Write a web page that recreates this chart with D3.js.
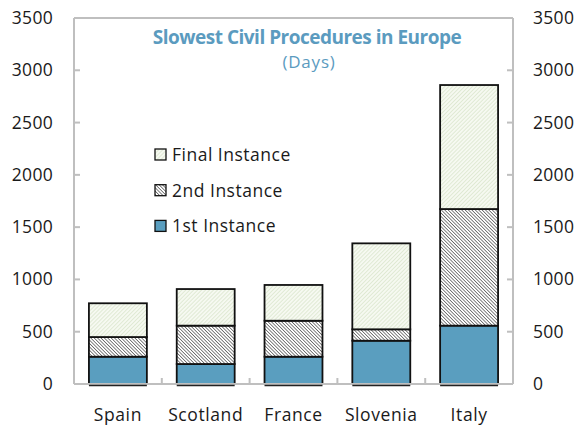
<!DOCTYPE html>
<html>
<head>
<meta charset="utf-8">
<script src="https://cdn.jsdelivr.net/npm/d3@7"></script>
<style>
  body { margin: 0; background: #fff; }
  svg text { font-family: "Open Sans", "DejaVu Sans", sans-serif; }
</style>
</head>
<body>
<svg id="chart" width="578" height="427"></svg>
<script>
// data (days)
var countries = ["Spain", "Scotland", "France", "Slovenia", "Italy"];
var firstInstance = [261, 191, 261, 414, 558];
var secondInstance = [188, 367, 344, 109, 1115];
var finalInstance = [323, 350, 342, 822, 1186];
var yTicks = [0, 500, 1000, 1500, 2000, 2500, 3000, 3500];
var seriesNames = ["1st Instance", "2nd Instance", "Final Instance"];

var svg = d3.select("#chart");
var margin = {left: 74, right: 65, top: 18, bottom: 43};
var W = 578, H = 427;

var x = d3.scaleBand().domain(countries)
    .range([margin.left, W - margin.right]).paddingInner(0.34).paddingOuter(0.17);
var y = d3.scaleLinear().domain([0, 3500]).range([H - margin.bottom, margin.top]);

// hatch patterns
var defs = svg.append("defs");
function hatch(id, bg, stroke, sw, gap, angle){
  var p = defs.append("pattern").attr("id", id)
      .attr("patternUnits", "userSpaceOnUse")
      .attr("width", gap).attr("height", gap)
      .attr("patternTransform", "rotate(" + angle + ")");
  p.append("rect").attr("width", gap).attr("height", gap).attr("fill", bg);
  p.append("line").attr("x1", 0).attr("y1", 0).attr("x2", 0).attr("y2", gap)
      .attr("stroke", stroke).attr("stroke-width", sw);
}
hatch("darkHatch", "#ffffff", "#333", 1.2, 2.4, -45);
hatch("greenHatch", "#f6f9f1", "#cfdfbf", 1.1, 2.8, 45);

var fills = ["#5a9ebf", "url(#darkHatch)", "url(#greenHatch)"];

var stackData = countries.map(function(c, i){
  return {country: c, s0: firstInstance[i], s1: secondInstance[i], s2: finalInstance[i]};
});
var stacked = d3.stack().keys(["s0", "s1", "s2"])(stackData);

// frame lines and ticks
var axisColor = "#bfbfbf";
var x0 = margin.left, x1 = W - margin.right;
svg.append("line").attr("x1", x0).attr("x2", x0).attr("y1", y(3500)).attr("y2", y(0))
   .attr("stroke", axisColor).attr("stroke-width", 2);
svg.append("line").attr("x1", x1).attr("x2", x1).attr("y1", y(3500)).attr("y2", y(0))
   .attr("stroke", axisColor).attr("stroke-width", 2);
svg.append("line").attr("x1", x0).attr("x2", x1).attr("y1", y(3500)).attr("y2", y(3500))
   .attr("stroke", axisColor).attr("stroke-width", 2);

yTicks.forEach(function(t){
  svg.append("line").attr("x1", x0).attr("x2", x0 + 6).attr("y1", y(t)).attr("y2", y(t))
     .attr("stroke", axisColor).attr("stroke-width", 2);
  svg.append("line").attr("x1", x1 - 6).attr("x2", x1).attr("y1", y(t)).attr("y2", y(t))
     .attr("stroke", axisColor).attr("stroke-width", 2);
});

// bars
svg.append("g").selectAll("g").data(stacked).enter().append("g")
  .attr("fill", function(d, i){ return fills[i]; })
  .selectAll("rect").data(function(d){ return d; }).enter().append("rect")
  .attr("x", function(d){ return x(d.data.country); })
  .attr("width", x.bandwidth())
  .attr("y", function(d){ return y(d[1]); })
  .attr("height", function(d){ return y(d[0]) - y(d[1]); })
  .attr("stroke", "#111").attr("stroke-width", 1.8);

// bottom axis line + category separators
svg.append("line").attr("x1", x0).attr("x2", x1).attr("y1", y(0)).attr("y2", y(0))
   .attr("stroke", axisColor).attr("stroke-width", 2);
countries.slice(1).forEach(function(c){
  var bx = x(c) - x.step() * x.paddingInner() / 2;
  svg.append("line").attr("x1", bx).attr("x2", bx).attr("y1", y(0)).attr("y2", y(0) - 6)
     .attr("stroke", axisColor).attr("stroke-width", 2);
});
// dark bar bottoms just below axis
svg.append("g").selectAll("line").data(countries).enter().append("line")
  .attr("x1", function(d){ return x(d); })
  .attr("x2", function(d){ return x(d) + x.bandwidth(); })
  .attr("y1", y(0) + 1.5).attr("y2", y(0) + 1.5)
  .attr("stroke", "#222").attr("stroke-width", 1.5);

// tick labels
var numFont = 17.5, labFont = 17.5;
svg.append("g").selectAll("text").data(yTicks).enter().append("text")
  .attr("x", 53).attr("y", function(d){ return y(d) + 6; })
  .attr("text-anchor", "end").attr("font-size", numFont).attr("fill", "#1a1a1a")
  .attr("letter-spacing", 0.3)
  .text(function(d){ return d; });
svg.append("g").selectAll("text").data(yTicks).enter().append("text")
  .attr("x", 533).attr("y", function(d){ return y(d) + 6; })
  .attr("text-anchor", "start").attr("font-size", numFont).attr("fill", "#1a1a1a")
  .attr("letter-spacing", 0.3)
  .text(function(d){ return d; });
svg.append("g").selectAll("text").data(countries).enter().append("text")
  .attr("x", function(d){ return x(d) + x.bandwidth() / 2; })
  .attr("y", 421)
  .attr("text-anchor", "middle").attr("font-size", labFont).attr("fill", "#1a1a1a")
  .attr("letter-spacing", 0.6)
  .text(function(d){ return d; });

// title
svg.append("text").attr("x", 307).attr("y", 44).attr("text-anchor", "middle")
  .attr("font-size", 19).attr("font-weight", "bold").attr("fill", "#5b9bbf")
  .attr("letter-spacing", -0.5)
  .text("Slowest Civil Procedures in Europe");
svg.append("text").attr("x", 309).attr("y", 68).attr("text-anchor", "middle")
  .attr("font-size", 17).attr("fill", "#5b9bbf")
  .attr("letter-spacing", 0.8)
  .text("(Days)");

// legend (top to bottom: final, 2nd, 1st)
var legendOrder = [2, 1, 0];
var legend = svg.append("g").selectAll("g").data(legendOrder).enter().append("g")
  .attr("transform", function(d, i){ return "translate(155," + (149 + i * 35.7) + ")"; });
legend.append("rect").attr("x", 0).attr("y", 0).attr("width", 11).attr("height", 11)
  .attr("fill", function(d){ return fills[d]; })
  .attr("stroke", "#111").attr("stroke-width", 1.3);
legend.append("text").attr("x", 17).attr("y", 12)
  .attr("font-size", labFont).attr("fill", "#1a1a1a")
  .attr("letter-spacing", 0.5)
  .text(function(d){ return seriesNames[d]; });
</script>
</body>
</html>
